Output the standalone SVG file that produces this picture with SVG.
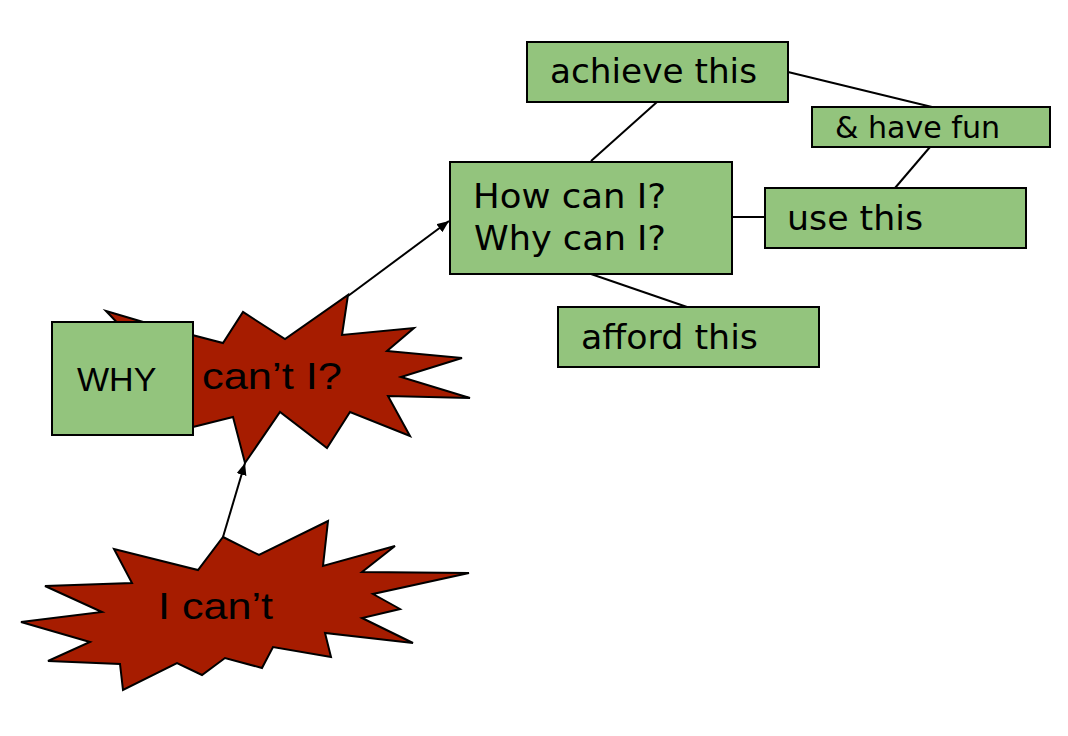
<svg xmlns="http://www.w3.org/2000/svg" width="1068" height="736" viewBox="0 0 1068 736">
<defs>
<style>
.box{fill:#93c47d;stroke:#000;stroke-width:2}
.boom{fill:#a61c00;stroke:#000;stroke-width:2;stroke-linejoin:miter}
.lbl{font-family:"DejaVu Sans",Verdana,sans-serif;font-size:33px;fill:#000}
.big{font-family:"Liberation Sans",Arial,sans-serif;font-size:36px;fill:#000}
.con{stroke:#000;stroke-width:2;fill:none}
</style>
<marker id="arr" markerUnits="userSpaceOnUse" markerWidth="14" markerHeight="12" refX="12" refY="5" orient="auto">
<path d="M0,0 L12,5 L0,10 Z" fill="#000"/>
</marker>
</defs>
<rect width="1068" height="736" fill="#fff"/>
<g id="connectors">
<line class="con" x1="223" y1="537" x2="245" y2="463" marker-end="url(#arr)"/>
<line class="con" x1="348" y1="296" x2="449" y2="221" marker-end="url(#arr)"/>
<line class="con" x1="657" y1="102" x2="591" y2="161"/>
<line class="con" x1="788" y1="72" x2="932" y2="107"/>
<line class="con" x1="930" y1="147" x2="895" y2="188"/>
<line class="con" x1="732" y1="217" x2="765" y2="217"/>
<line class="con" x1="591" y1="274" x2="687" y2="307"/>
</g>
<g id="icant">
<polygon class="boom" points="223,537 259,555 328,521 323,566 395,546 362,572 469,573 373,594 400,609 362,618 413,643 325,633 331,657 273,647 262,668 225,658 202,675 177,663 123,690 120,664 48,661 90,642 21,622 102,612 45,586 132,583 114,549 198,570"/>
<text class="big" x="158" y="619" textLength="115" lengthAdjust="spacingAndGlyphs">I can’t</text>
</g>
<g id="whycantI">
<polygon class="boom" points="106,311 150,324 223,343 243,312 285,339 348,295 342,335 414,328 387,351 462,358 401,377 470,398 388,396 410,436 350,412 327,448 280,412 245,463 233,417 193,427 150,430 80,425 120,400 70,385 115,365 80,345 130,336"/>
<text class="big" x="202" y="389" textLength="140" lengthAdjust="spacingAndGlyphs">can’t I?</text>
</g>
<g id="why">
<rect class="box" x="52" y="322" width="141" height="113"/>
<text class="big" x="77" y="391" font-size="34" style="font-size:34px">WHY</text>
</g>
<g id="howcan">
<rect class="box" x="450" y="162" width="282" height="112"/>
<text class="lbl" x="473" y="208" textLength="193" lengthAdjust="spacingAndGlyphs">How can I?</text>
<text class="lbl" x="474" y="250" textLength="192" lengthAdjust="spacingAndGlyphs">Why can I?</text>
</g>
<g id="achieve">
<rect class="box" x="527" y="42" width="261" height="60"/>
<text class="lbl" x="550" y="83" textLength="207" lengthAdjust="spacingAndGlyphs">achieve this</text>
</g>
<g id="fun">
<rect class="box" x="812" y="107" width="238" height="40"/>
<text class="lbl" x="835" y="138" style="font-size:30px" textLength="165" lengthAdjust="spacingAndGlyphs">&amp; have fun</text>
</g>
<g id="use">
<rect class="box" x="765" y="188" width="261" height="60"/>
<text class="lbl" x="787" y="230" textLength="136" lengthAdjust="spacingAndGlyphs">use this</text>
</g>
<g id="afford">
<rect class="box" x="558" y="307" width="261" height="60"/>
<text class="lbl" x="581" y="349" textLength="177" lengthAdjust="spacingAndGlyphs">afford this</text>
</g>
</svg>
